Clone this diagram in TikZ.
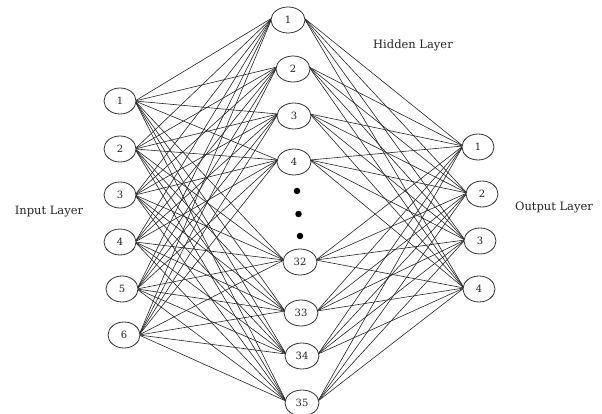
\documentclass[tikz,border=0pt]{standalone}
\usepackage{fontspec}
\setmainfont{DejaVu Serif}
\usetikzlibrary{shapes.geometric}
\begin{document}
\begin{tikzpicture}[x=1pt,y=-1pt,
  neuron/.style={draw=black!80, line width=0.8pt, ellipse, minimum width=32pt, minimum height=26pt, inner sep=0pt, font=\fontsize{10}{12}\selectfont, text=black!85, fill=white},
  wire/.style={draw=black!85, line width=0.6pt},
  layerlabel/.style={font=\fontsize{11.5}{13}\selectfont, text=black!85}]
\useasboundingbox (0,0) rectangle (602,414);
% input layer
\foreach \i/\x/\y in {1/120/101, 2/120/149, 3/120/195, 4/120/242, 5/122/289, 6/124/335}
  \coordinate (in\i) at (\x,\y);
% hidden layer
\foreach \i/\x/\y in {1/288/20, 2/293/69, 3/294/116, 4/294/162, 32/300/262, 33/301/313, 34/302/356, 35/302/403}
  \coordinate (hd\i) at (\x,\y);
% output layer
\foreach \i/\x/\y in {1/478/147, 2/482/194, 3/480/241, 4/479/289}
  \coordinate (out\i) at (\x,\y);

% connections input -> hidden
\foreach \i in {1,...,6}
  \foreach \j in {1,2,3,4,32,33,34,35}
    \draw[wire] ([xshift=15pt]in\i) -- ([xshift=-16pt,yshift=2pt]hd\j);
% connections hidden -> output
\foreach \j in {1,2,3,4,32,33,34,35}
  \foreach \k in {1,...,4}
    \draw[wire] ([xshift=16pt,yshift=2pt]hd\j) -- ([xshift=-15pt,yshift=1pt]out\k);

% neurons
\foreach \i in {1,...,6}
  \node[neuron] (ni\i) at (in\i) {\i};
\foreach \j in {1,2,3,4,32,33,34,35}
  \node[neuron, minimum width=34pt] (nh\j) at (hd\j) {\j};
\foreach \k in {1,...,4}
  \node[neuron] (no\k) at (out\k) {\k};

% ellipsis dots between hidden neurons
\foreach \y [count=\n] in {191,214,236}
  \node[circle, fill=black, inner sep=0pt, minimum size=6.5pt] (dot\n) at (297+1.5*\n-1.5,\y) {};

% layer labels
\node[layerlabel] (lin) at (49,212) {Input Layer};
\node[layerlabel] (lhd) at (413,45) {Hidden Layer};
\node[layerlabel] (lout) at (554,208) {Output Layer};
\end{tikzpicture}
\end{document}
